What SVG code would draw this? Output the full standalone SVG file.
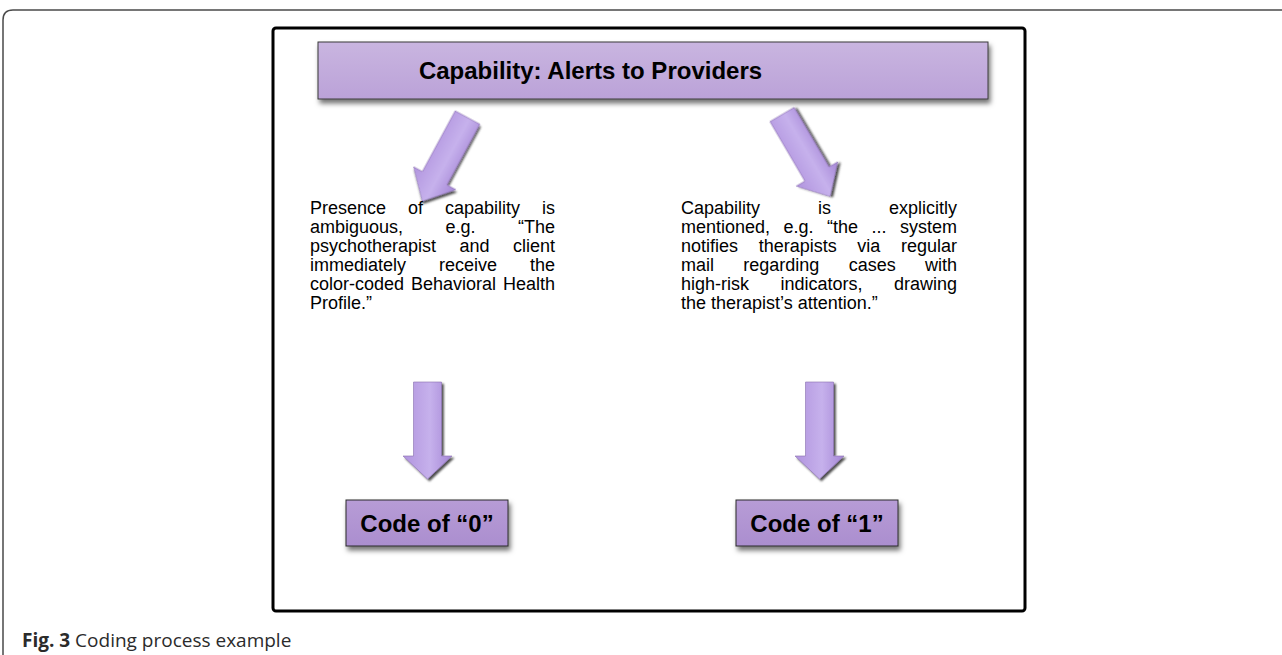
<svg xmlns="http://www.w3.org/2000/svg" width="1282" height="655" viewBox="0 0 1282 655">
  <defs>
    <linearGradient id="barFill" x1="0" y1="0" x2="0" y2="1">
      <stop offset="0" stop-color="#C9B5E0"/>
      <stop offset="1" stop-color="#BBA2D8"/>
    </linearGradient>
    <linearGradient id="codeFill" x1="0" y1="0" x2="0" y2="1">
      <stop offset="0" stop-color="#B79CD6"/>
      <stop offset="1" stop-color="#AB8ECF"/>
    </linearGradient>
    <linearGradient id="arrowFill" x1="0" y1="0" x2="1" y2="0">
      <stop offset="0" stop-color="#B194DE"/>
      <stop offset="0.55" stop-color="#C6B1EC"/>
      <stop offset="1" stop-color="#A586D6"/>
    </linearGradient>
    <filter id="shadow" x="-10%" y="-20%" width="130%" height="160%">
      <feDropShadow dx="2" dy="4" stdDeviation="2.5" flood-color="#000" flood-opacity="0.55"/>
    </filter>
    <filter id="arrowShadow" x="-30%" y="-20%" width="160%" height="150%">
      <feDropShadow dx="2" dy="2" stdDeviation="1" flood-color="#000" flood-opacity="0.7"/>
    </filter>
  </defs>
  <style>
    .frame { fill: none; stroke: #4a4a4a; stroke-width: 1.5; }
    .panel { fill: #fff; stroke: #000; stroke-width: 3; }
    .bar { fill: url(#barFill); stroke: #3a3a3a; stroke-width: 1; filter: url(#shadow); }
    .code { fill: url(#codeFill); stroke: #2a2a2a; stroke-width: 1; filter: url(#shadow); }
    .arrow { fill: url(#arrowFill); stroke: #8a70b0; stroke-width: 0.6; filter: url(#arrowShadow); }
    .head { font-family: "Liberation Sans", Arial, sans-serif; font-weight: bold; font-size: 24px; fill: #000; text-anchor: middle; }
    .body { font-family: "Liberation Sans", Arial, sans-serif; font-size: 18px; fill: #000; }
    .end { text-anchor: end; }
    .caption { font-family: "Open Sans", "Noto Sans", sans-serif; font-size: 19px; fill: #2b2b2b; }
  </style>

  <rect width="1282" height="655" fill="#fff"/>

  <!-- outer figure frame, open on the right and bottom -->
  <path class="frame" d="M3,655 V20 Q3,10 13,10 H1282"/>

  <!-- inner panel -->
  <rect class="panel" x="273" y="28" width="752" height="583" rx="3"/>

  <g id="title">
    <rect class="bar" x="318" y="42" width="670" height="57"/>
    <text class="head" x="590.5" y="79">Capability: Alerts to Providers</text>
  </g>

  <g id="connectors">
    <polygon class="arrow" transform="translate(467.5,117.5) rotate(28.4)" points="-14,0 14,0 14,69 24,69 0,95 -24,69 -14,69"/>
    <polygon class="arrow" transform="translate(782,114.5) rotate(-30.4)" points="-14,0 14,0 14,69 24,69 0,95 -24,69 -14,69"/>
    <polygon class="arrow" transform="translate(427.5,382)" points="-14,0 14,0 14,74 24.5,74 0,97 -24.5,74 -14,74"/>
    <polygon class="arrow" transform="translate(819.5,382)" points="-14,0 14,0 14,74 24.5,74 0,97 -24.5,74 -14,74"/>
  </g>

  <g id="ambiguous">
    <text class="body" y="214"><tspan x="310">Presence</tspan><tspan x="408">of</tspan><tspan x="445">capability</tspan></text>
    <text class="body end" x="555" y="214">is</text>
    <text class="body" y="233"><tspan x="310">ambiguous,</tspan><tspan x="445.5">e.g.</tspan></text>
    <text class="body end" x="555" y="233">“The</text>
    <text class="body" y="252"><tspan x="310">psychotherapist</tspan><tspan x="459.6">and</tspan></text>
    <text class="body end" x="555" y="252">client</text>
    <text class="body" y="271"><tspan x="310">immediately</tspan><tspan x="439">receive</tspan></text>
    <text class="body end" x="555" y="271">the</text>
    <text class="body" y="290"><tspan x="310">color-coded</tspan><tspan x="411">Behavioral</tspan></text>
    <text class="body end" x="555" y="290">Health</text>
    <text class="body" x="310" y="309">Profile.”</text>
  </g>

  <g id="explicit">
    <text class="body" y="214"><tspan x="681">Capability</tspan><tspan x="818">is</tspan></text>
    <text class="body end" x="957" y="214">explicitly</text>
    <text class="body" y="233"><tspan x="681">mentioned,</tspan><tspan x="783.5">e.g.</tspan><tspan x="827">“the</tspan><tspan x="871.5">...</tspan></text>
    <text class="body end" x="957" y="233">system</text>
    <text class="body" y="252"><tspan x="681">notifies</tspan><tspan x="758.7">therapists</tspan><tspan x="857.3">via</tspan></text>
    <text class="body end" x="957" y="252">regular</text>
    <text class="body" y="271"><tspan x="681">mail</tspan><tspan x="743.3">regarding</tspan><tspan x="848.7">cases</tspan></text>
    <text class="body end" x="957" y="271">with</text>
    <text class="body" y="290"><tspan x="681">high-risk</tspan><tspan x="780.5">indicators,</tspan></text>
    <text class="body end" x="957" y="290">drawing</text>
    <text class="body" x="681" y="309">the therapist’s attention.”</text>
  </g>

  <g id="code0">
    <rect class="code" x="346" y="500" width="162" height="46"/>
    <text class="head" x="427" y="531.5">Code of “0”</text>
  </g>

  <g id="code1">
    <rect class="code" x="736" y="500" width="162" height="46"/>
    <text class="head" x="817" y="531.5">Code of “1”</text>
  </g>

  <text class="caption" x="22" y="647"><tspan font-weight="bold">Fig. 3</tspan> Coding process example</text>
</svg>
